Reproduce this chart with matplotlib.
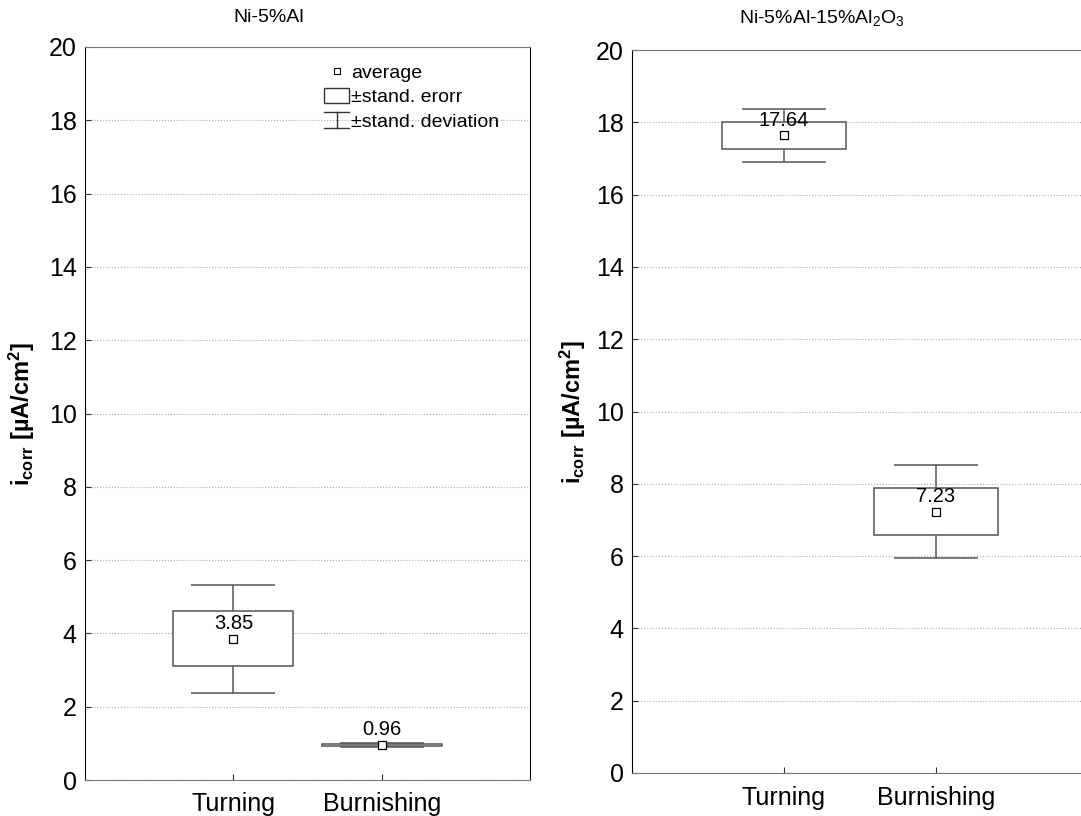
import numpy as np
import matplotlib
matplotlib.use("Agg")
import matplotlib.pyplot as plt
from matplotlib.lines import Line2D
from matplotlib.patches import Rectangle
from matplotlib.legend_handler import HandlerBase

plt.rcParams['font.family'] = ['Liberation Sans', 'DejaVu Sans']
plt.rcParams['mathtext.default'] = 'regular'

categories = ['Turning', 'Burnishing']
titles = ['Ni-5%Al', 'Ni-5%Al-15%Al$_2$O$_3$']
means = [[3.85, 0.96], [17.64, 7.23]]
std_err = [[0.75, 0.03], [0.37, 0.65]]
std_dev = [[1.48, 0.06], [0.74, 1.29]]
mean_labels = [['3.85', '0.96'], ['17.64', '7.23']]
yticks = [0, 2, 4, 6, 8, 10, 12, 14, 16, 18, 20]

ylab = 'i$_{corr}$ [µA/cm$^2$]'
edge = '#555555'


class WhiskerHandler(HandlerBase):
    # I-shaped symbol for the legend
    def create_artists(self, legend, orig_handle, xdescent, ydescent,
                       width, height, fontsize, trans):
        x0, x1 = -xdescent, width - xdescent
        y0, y1 = -ydescent, height - ydescent
        cx = (x0 + x1) / 2
        kw = dict(color='#333333', lw=1.0, transform=trans)
        return [Line2D([x0, x1], [y1, y1], **kw),
                Line2D([cx, cx], [y0, y1], **kw),
                Line2D([x0, x1], [y0, y0], **kw)]


fig = plt.figure(figsize=(10.81, 8.16), dpi=100)
rects = [[85/1081, 36/816, 445/1081, 733/816],
         [632/1081, 43/816, 456/1081, 723/816]]
title_x = [269/1081, 822/1081]
label_x = [-0.108, -0.096]

pos = np.arange(1, len(categories) + 1)
for k in range(2):
    ax = fig.add_axes(rects[k])
    m = np.array(means[k])
    se = np.array(std_err[k])
    sd = np.array(std_dev[k])

    ax.errorbar(pos, m, yerr=sd, fmt='none', ecolor=edge, elinewidth=1.1,
                capsize=30, capthick=1.1, zorder=2)
    ax.bar(pos, 2 * se, bottom=m - se, width=0.81, color='white',
           edgecolor=edge, linewidth=1.1, zorder=3)
    ax.plot(pos, m, 's', ms=6, mfc='white', mec='black', mew=0.9, zorder=4)
    for p, v, t in zip(pos, m, mean_labels[k]):
        ax.annotate(t, (p, v), xytext=(0, 7), textcoords='offset points',
                    ha='center', va='baseline', fontsize=14.5, zorder=5)

    ax.set_xlim(0, 3)
    ax.set_ylim(0, 20)
    ax.set_yticks(yticks)
    ax.set_xticks(pos)
    ax.set_xticklabels(categories)
    ax.tick_params(axis='both', direction='in', labelsize=18, length=4,
                   color='#333333')
    ax.tick_params(axis='y', pad=6)
    ax.tick_params(axis='x', pad=9)
    ax.grid(axis='y', linestyle=':', color='#aaaaaa', linewidth=0.8)
    ax.set_axisbelow(True)
    ax.spines['left'].set_color('black')
    ax.spines['right'].set_color('black')
    ax.spines['top'].set_color('#777777')
    ax.spines['bottom'].set_color('#777777')
    ax.set_ylabel(ylab, fontsize=17, fontweight='bold')
    ax.yaxis.set_label_coords(label_x[k], 0.5)
    fig.text(title_x[k], 1 - 18/816, titles[k], ha='center', va='center',
             fontsize=14)

    if k == 0:
        h_avg = Line2D([], [], ls='none', marker='s', ms=5, mfc='white',
                       mec='black', mew=0.8)
        h_box = Rectangle((0, 0), 1, 1, facecolor='white', edgecolor='#333333',
                          linewidth=1.0)
        h_wh = object()
        ax.legend([h_avg, h_box, h_wh],
                  ['average', '±stand. erorr', '±stand. deviation'],
                  handler_map={h_wh.__class__: WhiskerHandler()},
                  loc='upper left', bbox_to_anchor=(0.52, 0.988),
                  frameon=False, fontsize=14, handlelength=1.3,
                  handleheight=0.85, handletextpad=0.1, labelspacing=0.3,
                  borderaxespad=0)

fig.savefig('out.png', dpi=100)
